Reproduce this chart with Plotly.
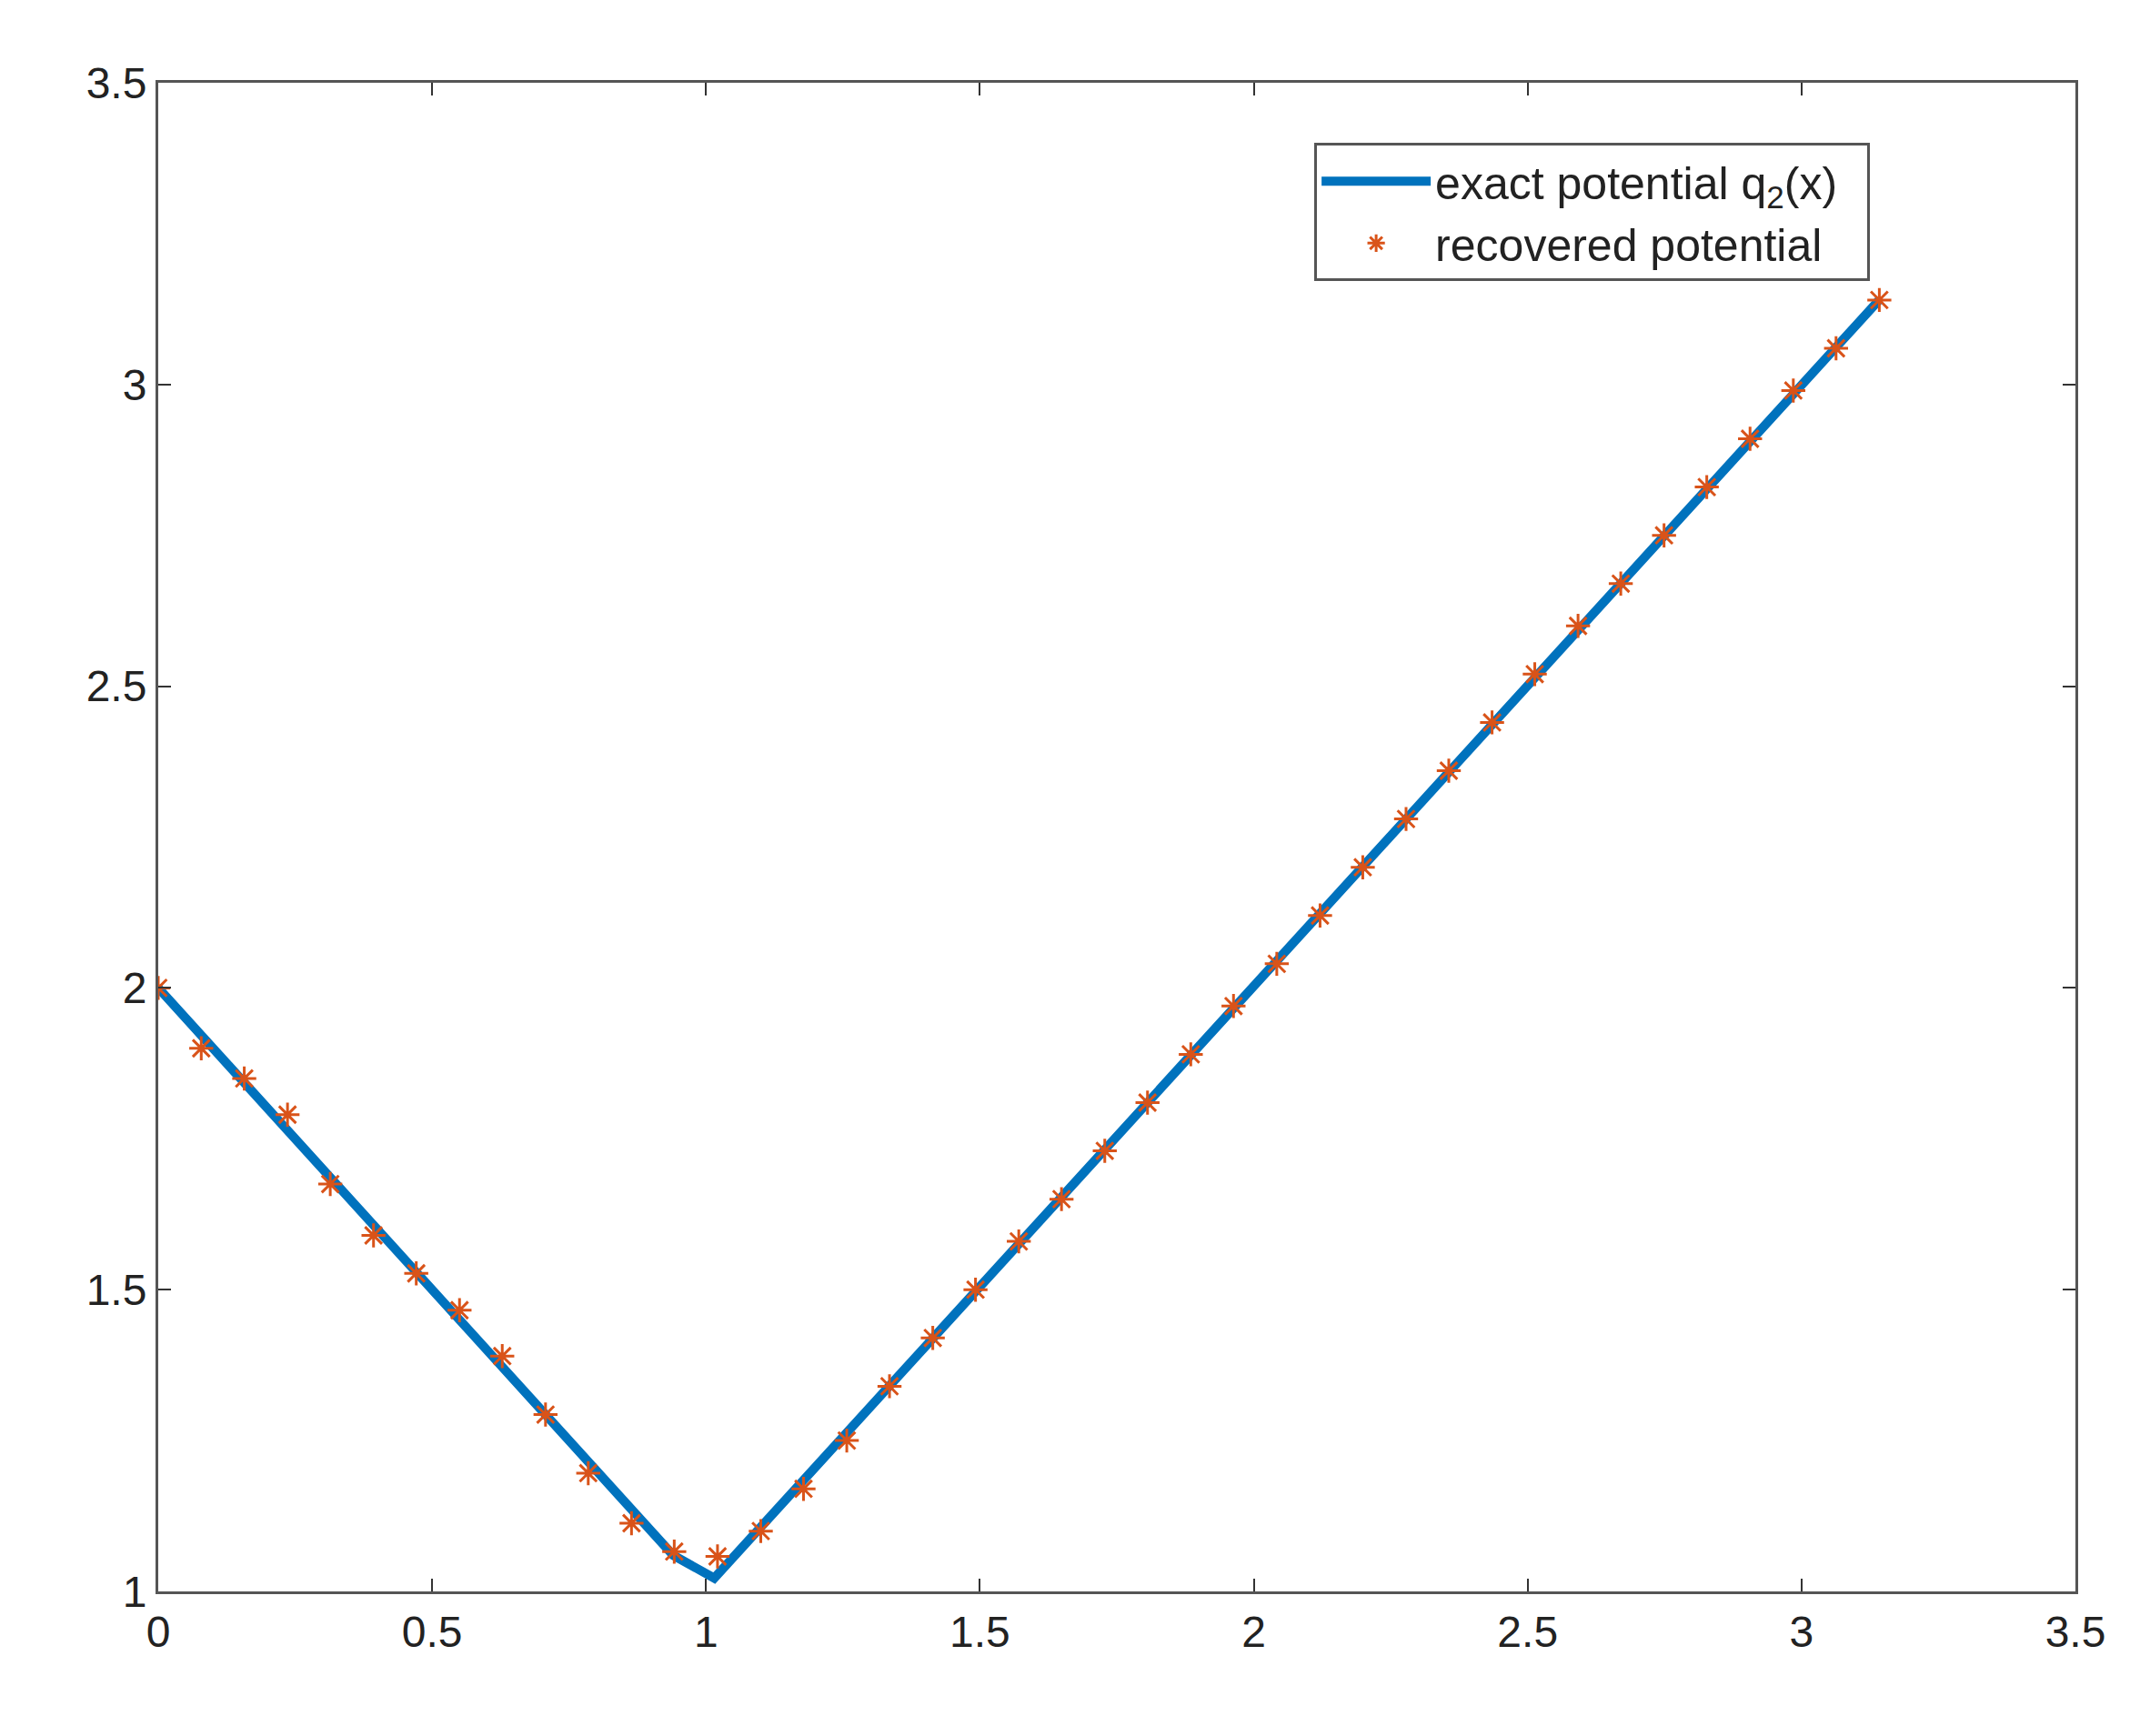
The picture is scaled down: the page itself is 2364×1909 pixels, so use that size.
import plotly.graph_objects as go

line_x = [0, 0.94, 1.015, 3.1416]
line_y = [2.0, 1.06, 1.022, 3.14]

star_x = [0, 0.0785, 0.157, 0.236, 0.314, 0.393, 0.471, 0.550, 0.628, 0.707, 0.785, 0.864, 0.942,
          1.021, 1.100, 1.178, 1.257, 1.335, 1.414, 1.492, 1.571, 1.649, 1.728, 1.806, 1.885, 1.963,
          2.042, 2.121, 2.199, 2.278, 2.356, 2.435, 2.513, 2.592, 2.670, 2.749, 2.827, 2.906, 2.985,
          3.063, 3.142]
star_y = [2.0, 1.90, 1.85, 1.79, 1.675, 1.59, 1.527, 1.466, 1.39, 1.293, 1.196, 1.113, 1.066,
          1.058, 1.10, 1.17, 1.25, 1.34, 1.42, 1.50, 1.58, 1.65, 1.73, 1.81, 1.89, 1.97,
          2.04, 2.12, 2.20, 2.28, 2.36, 2.44, 2.52, 2.60, 2.67, 2.75, 2.83, 2.91, 2.99,
          3.06, 3.14]

fig = go.Figure()
fig.add_trace(go.Scatter(x=line_x, y=line_y, mode="lines", name="exact potential q<sub>2</sub>(x)  ",
                         line=dict(color="#0072BD", width=10)))
fig.add_trace(go.Scatter(x=star_x, y=star_y, mode="markers", name="recovered potential  ",
                         marker=dict(symbol="asterisk-open", size=22, color="#D95319",
                                     line=dict(color="#D95319", width=3))))

ax = dict(showgrid=False, zeroline=False, ticks="inside", ticklen=14, tickwidth=2, tickcolor="#333",
          mirror="ticks", showline=True, linecolor="#555", linewidth=3,
          tickfont=dict(family="Liberation Sans", size=48, color="#222"), dtick=0.5)
fig.update_layout(
    width=2364, height=1909, plot_bgcolor="white", paper_bgcolor="white",
    margin=dict(l=166, r=90, t=83, b=167),
    xaxis=dict(range=[0, 3.5], tickvals=[0, 0.5, 1, 1.5, 2, 2.5, 3, 3.5],
               ticktext=["0", "0.5", "1", "1.5", "2", "2.5", "3", "3.5"], **ax),
    yaxis=dict(range=[1, 3.5], tickvals=[1, 1.5, 2, 2.5, 3, 3.5],
               ticktext=["1", "1.5", "2", "2.5", "3", "3.5"], **ax),
    legend=dict(x=0.603, y=0.96, xanchor="left", yanchor="top", bgcolor="white",
                bordercolor="#555", borderwidth=3,
                font=dict(family="Liberation Sans", size=50, color="#222"),
                itemwidth=120, tracegroupgap=20),
    showlegend=True,
)
fig.write_html("out.html")
